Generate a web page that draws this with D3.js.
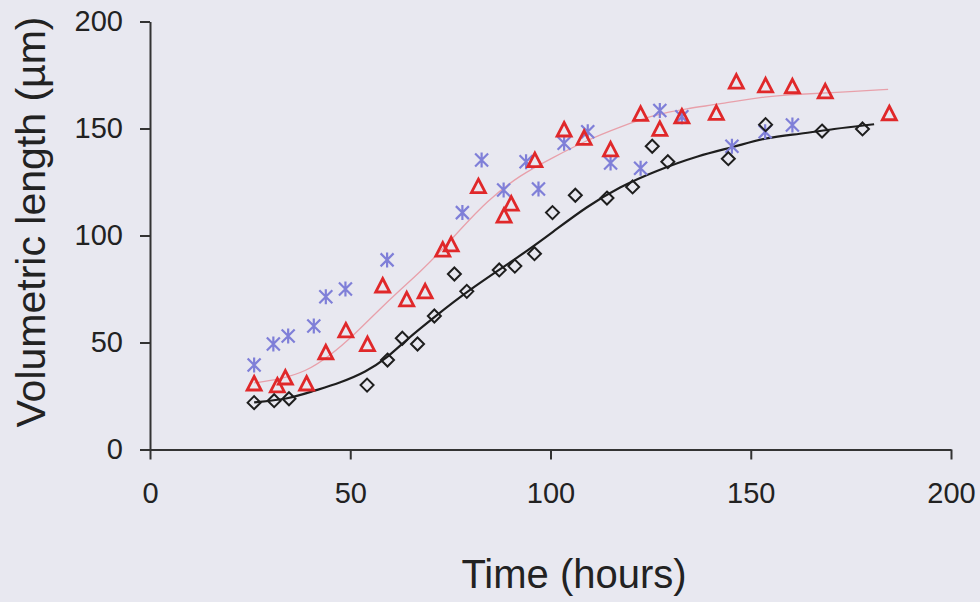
<!DOCTYPE html>
<html>
<head>
  <meta charset="utf8">
  <title>Volumetric length</title>
  <style type="text/css">
    body { margin: 0; background: #e8e8f0; }
    svg { display: block; }
    text { font-family: "Liberation Sans", Arial, sans-serif; fill: #222; }
    .axis path, .axis line { stroke: #333; stroke-width: 2px; }
    .axis text { font-size: 29px; fill: #222; }
  </style>
</head>
<body>

<script src="https://cdnjs.cloudflare.com/ajax/libs/d3/7.8.5/d3.min.js"></script>

<script type="text/javascript">

var width = 980, height = 602;

// ticks
var xTicks = [0, 50, 100, 150, 200]
var yTicks = [0, 50, 100, 150, 200]

// black diamonds: time (h), length (um)
var diamondTime = [26.0, 31.0, 34.7, 54.2, 59.3, 63.0, 66.8, 71.0, 76.0, 79.1, 87.2, 91.1, 96.0, 100.5, 106.2, 114.1, 120.5, 125.4, 129.3, 144.4, 153.7, 167.8, 177.9]
var diamondLen  = [21.9, 22.8, 23.7, 30.1, 41.8, 52.0, 49.3, 62.4, 82.0, 73.9, 83.9, 85.7, 91.5, 110.7, 118.8, 117.5, 122.7, 141.7, 134.5, 135.9, 151.8, 148.8, 149.8]

// red triangles
var triangleTime = [26.0, 31.8, 33.8, 39.1, 43.9, 48.9, 54.3, 58.1, 64.1, 68.7, 73.1, 75.2, 82.0, 88.4, 90.2, 96.1, 103.4, 108.4, 115.0, 122.5, 127.3, 132.8, 141.4, 146.4, 153.7, 160.4, 168.6, 184.6]
var triangleLen  = [30.6, 29.7, 33.4, 30.6, 45.2, 55.4, 49.0, 76.4, 69.9, 73.7, 93.2, 95.6, 122.8, 109.1, 114.7, 135.0, 149.3, 145.4, 140.0, 156.6, 149.6, 155.4, 157.1, 171.7, 169.9, 169.5, 167.1, 156.9]

// blue asterisks
var starTime = [26.0, 30.8, 34.5, 40.9, 43.9, 48.8, 59.2, 78.0, 82.8, 88.3, 93.9, 97.0, 103.4, 109.3, 115.0, 122.5, 127.3, 132.8, 145.3, 153.6, 160.4]
var starLen  = [39.5, 49.3, 53.0, 57.7, 71.4, 75.0, 88.6, 110.7, 135.3, 121.3, 134.5, 121.7, 143.1, 148.5, 133.9, 131.4, 158.4, 155.5, 141.7, 148.5, 151.6]

// fitted curves
var blackFitTime = [26.0, 34.7, 40.7, 47.4, 53.9, 59.2, 64.2, 70.7, 79.1, 92.4, 100.7, 109.0, 117.4, 125.7, 137.3, 145.6, 154.0, 162.3, 170.5, 180.8]
var blackFitLen  = [22.0, 23.6, 27.3, 31.1, 36.2, 42.8, 51.6, 61.4, 73.9, 90.4, 101.8, 113.5, 122.8, 129.8, 137.6, 141.2, 145.9, 147.4, 149.8, 152.0]

var pinkFitTime = [26.0, 32.5, 38.7, 44.9, 51.2, 57.4, 62.4, 67.4, 72.4, 77.4, 84.1, 92.4, 100.6, 109.1, 117.4, 125.6, 134.1, 142.3, 154.0, 162.3, 170.5, 184.3]
var pinkFitLen  = [31.1, 32.9, 36.2, 43.7, 54.0, 65.7, 74.5, 82.9, 92.3, 102.6, 116.1, 128.3, 136.4, 144.6, 150.8, 156.3, 159.4, 161.4, 165.2, 166.0, 166.7, 168.3]

function zip(a, b) {
  return a.map(function(d, i) { return [d, b[i]] })
}

var svg = d3.select('body').append('svg')
    .attr('width', width)
    .attr('height', height)

svg.append('rect')
    .attr('width', width)
    .attr('height', height)
    .attr('fill', '#e8e8f0')

var x = d3.scaleLinear().domain([0, 200]).range([150, 951])
var y = d3.scaleLinear().domain([0, 200]).range([449.5, 21.5])

// axes
svg.append('g')
    .attr('class', 'axis')
    .attr('transform', 'translate(0,' + y(0) + ')')
    .call(d3.axisBottom(x).tickValues(xTicks).tickSize(10).tickPadding(23).tickSizeOuter(0))

svg.append('g')
    .attr('class', 'axis')
    .attr('transform', 'translate(' + x(0) + ',0)')
    .call(d3.axisLeft(y).tickValues(yTicks).tickSize(10).tickPadding(17).tickSizeOuter(0))

// titles
svg.append('text')
    .attr('x', 574)
    .attr('y', 588)
    .attr('text-anchor', 'middle')
    .style('font-size', '40px')
    .text('Time (hours)')

svg.append('text')
    .attr('transform', 'translate(45,222) rotate(-90)')
    .attr('text-anchor', 'middle')
    .style('font-size', '41px')
    .text('Volumetric length (µm)')

// fit lines
var line = d3.line()
    .x(function(d) { return x(d[0]) })
    .y(function(d) { return y(d[1]) })
    .curve(d3.curveBasis)

svg.append('path')
    .datum(zip(pinkFitTime, pinkFitLen))
    .attr('d', line)
    .attr('fill', 'none')
    .attr('stroke', '#e8a0aa')
    .attr('stroke-width', 1.3)

svg.append('path')
    .datum(zip(blackFitTime, blackFitLen))
    .attr('d', line)
    .attr('fill', 'none')
    .attr('stroke', '#1e1e1e')
    .attr('stroke-width', 2.2)

// markers
svg.append('g').selectAll('path')
    .data(zip(starTime, starLen))
    .enter()
    .append('path')
    .attr('transform', function(d) { return 'translate(' + x(d[0]) + ',' + y(d[1]) + ')' })
    .attr('d', 'M0,-7.5V7.5M-6.5,-6.5L6.5,6.5M-6.5,6.5L6.5,-6.5')
    .attr('fill', 'none')
    .attr('stroke', '#7f7fd8')
    .attr('stroke-width', 2.2)

svg.append('g').selectAll('path')
    .data(zip(triangleTime, triangleLen))
    .enter()
    .append('path')
    .attr('transform', function(d) { return 'translate(' + x(d[0]) + ',' + y(d[1]) + ')' })
    .attr('d', 'M0,-7.5L7,6L-7,6Z')
    .attr('fill', 'none')
    .attr('stroke', '#e0282a')
    .attr('stroke-width', 2.8)
    .attr('stroke-linejoin', 'miter')

svg.append('g').selectAll('path')
    .data(zip(diamondTime, diamondLen))
    .enter()
    .append('path')
    .attr('transform', function(d) { return 'translate(' + x(d[0]) + ',' + y(d[1]) + ')' })
    .attr('d', 'M0,-6.5L6.5,0L0,6.5L-6.5,0Z')
    .attr('fill', 'none')
    .attr('stroke', '#1e1e1e')
    .attr('stroke-width', 2)

</script>

</body>
</html>
